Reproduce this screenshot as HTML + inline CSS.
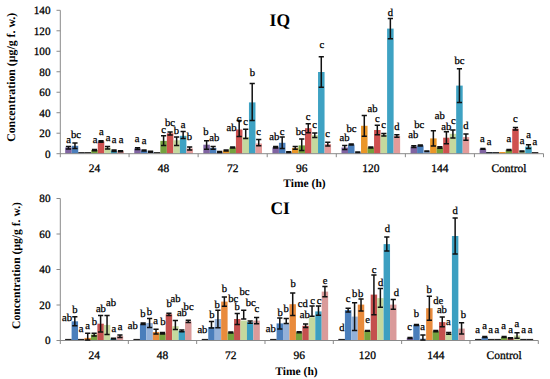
<!DOCTYPE html>
<html><head><meta charset="utf-8"><style>
html,body{margin:0;padding:0;background:#fff;}
body{width:550px;height:379px;overflow:hidden;}
svg{display:block;}
text{font-family:"Liberation Serif", serif;fill:#000;text-rendering:geometricPrecision;stroke:#000;stroke-width:0.28px;}
text[font-weight=bold]{stroke:none;}
</style></head><body>
<svg width="550" height="379" viewBox="0 0 550 379">
<rect width="550" height="379" fill="#fff"/>
<rect x="65.20" y="147.50" width="6.52" height="6.20" fill="#7f63a1"/>
<rect x="71.72" y="145.80" width="6.52" height="7.90" fill="#4a7ebb"/>
<rect x="78.23" y="153.00" width="6.52" height="0.70" fill="#93b1d9"/>
<rect x="78.23" y="152.10" width="6.52" height="1.4" fill="#222"/>
<rect x="84.75" y="153.50" width="6.52" height="0.20" fill="#ea9628"/>
<rect x="84.75" y="152.10" width="6.52" height="1.4" fill="#222"/>
<rect x="91.26" y="150.00" width="6.52" height="3.70" fill="#74a23e"/>
<rect x="97.78" y="141.40" width="6.52" height="12.30" fill="#cf5150"/>
<rect x="104.30" y="147.70" width="6.52" height="6.00" fill="#c5d99e"/>
<rect x="110.81" y="150.60" width="6.52" height="3.10" fill="#3ea2c3"/>
<rect x="117.33" y="151.20" width="6.52" height="2.50" fill="#e49b9a"/>
<rect x="134.27" y="148.50" width="6.52" height="5.20" fill="#7f63a1"/>
<rect x="140.79" y="150.50" width="6.52" height="3.20" fill="#4a7ebb"/>
<rect x="147.30" y="151.70" width="6.52" height="2.00" fill="#93b1d9"/>
<rect x="153.82" y="153.50" width="6.52" height="0.20" fill="#ea9628"/>
<rect x="153.82" y="152.10" width="6.52" height="1.4" fill="#222"/>
<rect x="160.34" y="140.90" width="6.52" height="12.80" fill="#74a23e"/>
<rect x="166.85" y="133.30" width="6.52" height="20.40" fill="#cf5150"/>
<rect x="173.37" y="140.30" width="6.52" height="13.40" fill="#c5d99e"/>
<rect x="179.88" y="135.80" width="6.52" height="17.90" fill="#3ea2c3"/>
<rect x="186.40" y="148.50" width="6.52" height="5.20" fill="#e49b9a"/>
<rect x="203.34" y="144.70" width="6.52" height="9.00" fill="#7f63a1"/>
<rect x="209.86" y="147.90" width="6.52" height="5.80" fill="#4a7ebb"/>
<rect x="216.37" y="152.00" width="6.52" height="1.70" fill="#93b1d9"/>
<rect x="222.89" y="150.50" width="6.52" height="3.20" fill="#ea9628"/>
<rect x="229.41" y="147.50" width="6.52" height="6.20" fill="#74a23e"/>
<rect x="235.92" y="129.50" width="6.52" height="24.20" fill="#cf5150"/>
<rect x="242.44" y="137.10" width="6.52" height="16.60" fill="#c5d99e"/>
<rect x="248.95" y="102.40" width="6.52" height="51.30" fill="#3ea2c3"/>
<rect x="255.47" y="143.50" width="6.52" height="10.20" fill="#e49b9a"/>
<rect x="272.41" y="147.30" width="6.52" height="6.40" fill="#7f63a1"/>
<rect x="278.93" y="142.80" width="6.52" height="10.90" fill="#4a7ebb"/>
<rect x="285.45" y="152.10" width="6.52" height="1.60" fill="#93b1d9"/>
<rect x="291.96" y="147.90" width="6.52" height="5.80" fill="#ea9628"/>
<rect x="298.48" y="145.40" width="6.52" height="8.30" fill="#74a23e"/>
<rect x="304.99" y="128.20" width="6.52" height="25.50" fill="#cf5150"/>
<rect x="311.51" y="135.20" width="6.52" height="18.50" fill="#c5d99e"/>
<rect x="318.03" y="72.00" width="6.52" height="81.70" fill="#3ea2c3"/>
<rect x="324.54" y="144.10" width="6.52" height="9.60" fill="#e49b9a"/>
<rect x="341.49" y="147.50" width="6.52" height="6.20" fill="#7f63a1"/>
<rect x="348.00" y="144.50" width="6.52" height="9.20" fill="#4a7ebb"/>
<rect x="354.52" y="152.30" width="6.52" height="1.40" fill="#93b1d9"/>
<rect x="361.03" y="125.80" width="6.52" height="27.90" fill="#ea9628"/>
<rect x="367.55" y="147.50" width="6.52" height="6.20" fill="#74a23e"/>
<rect x="374.07" y="130.00" width="6.52" height="23.70" fill="#cf5150"/>
<rect x="380.58" y="134.70" width="6.52" height="19.00" fill="#c5d99e"/>
<rect x="387.10" y="28.60" width="6.52" height="125.10" fill="#3ea2c3"/>
<rect x="393.61" y="136.00" width="6.52" height="17.70" fill="#e49b9a"/>
<rect x="410.56" y="146.60" width="6.52" height="7.10" fill="#7f63a1"/>
<rect x="417.07" y="145.40" width="6.52" height="8.30" fill="#4a7ebb"/>
<rect x="423.59" y="151.30" width="6.52" height="2.40" fill="#93b1d9"/>
<rect x="430.11" y="138.40" width="6.52" height="15.30" fill="#ea9628"/>
<rect x="436.62" y="147.50" width="6.52" height="6.20" fill="#74a23e"/>
<rect x="443.14" y="137.70" width="6.52" height="16.00" fill="#cf5150"/>
<rect x="449.65" y="133.80" width="6.52" height="19.90" fill="#c5d99e"/>
<rect x="456.17" y="85.60" width="6.52" height="68.10" fill="#3ea2c3"/>
<rect x="462.69" y="137.10" width="6.52" height="16.60" fill="#e49b9a"/>
<rect x="479.63" y="148.80" width="6.52" height="4.90" fill="#7f63a1"/>
<rect x="486.14" y="152.10" width="6.52" height="1.60" fill="#4a7ebb"/>
<rect x="486.14" y="152.10" width="6.52" height="1.4" fill="#222"/>
<rect x="492.66" y="152.50" width="6.52" height="1.20" fill="#93b1d9"/>
<rect x="492.66" y="152.10" width="6.52" height="1.4" fill="#222"/>
<rect x="499.18" y="152.00" width="6.52" height="1.70" fill="#ea9628"/>
<rect x="505.69" y="149.80" width="6.52" height="3.90" fill="#74a23e"/>
<rect x="512.21" y="128.80" width="6.52" height="24.90" fill="#cf5150"/>
<rect x="518.72" y="151.30" width="6.52" height="2.40" fill="#c5d99e"/>
<rect x="525.24" y="146.60" width="6.52" height="7.10" fill="#3ea2c3"/>
<rect x="531.76" y="152.50" width="6.52" height="1.20" fill="#e49b9a"/>
<rect x="531.76" y="152.10" width="6.52" height="1.4" fill="#222"/>
<line x1="60" y1="153.7" x2="543.5" y2="153.7" stroke="#8a8a8a" stroke-width="1"/>
<line x1="60.3" y1="10.305000000000007" x2="60.3" y2="157.2" stroke="#8a8a8a" stroke-width="1"/>
<line x1="56.5" y1="153.70" x2="60.3" y2="153.70" stroke="#8a8a8a" stroke-width="1"/>
<text x="50.5" y="157.60" text-anchor="end" font-size="11.2">0</text>
<line x1="56.5" y1="133.21" x2="60.3" y2="133.21" stroke="#8a8a8a" stroke-width="1"/>
<text x="50.5" y="137.11" text-anchor="end" font-size="11.2">20</text>
<line x1="56.5" y1="112.73" x2="60.3" y2="112.73" stroke="#8a8a8a" stroke-width="1"/>
<text x="50.5" y="116.63" text-anchor="end" font-size="11.2">40</text>
<line x1="56.5" y1="92.24" x2="60.3" y2="92.24" stroke="#8a8a8a" stroke-width="1"/>
<text x="50.5" y="96.14" text-anchor="end" font-size="11.2">60</text>
<line x1="56.5" y1="71.76" x2="60.3" y2="71.76" stroke="#8a8a8a" stroke-width="1"/>
<text x="50.5" y="75.66" text-anchor="end" font-size="11.2">80</text>
<line x1="56.5" y1="51.27" x2="60.3" y2="51.27" stroke="#8a8a8a" stroke-width="1"/>
<text x="50.5" y="55.17" text-anchor="end" font-size="11.2">100</text>
<line x1="56.5" y1="30.79" x2="60.3" y2="30.79" stroke="#8a8a8a" stroke-width="1"/>
<text x="50.5" y="34.69" text-anchor="end" font-size="11.2">120</text>
<line x1="56.5" y1="10.31" x2="60.3" y2="10.31" stroke="#8a8a8a" stroke-width="1"/>
<text x="50.5" y="14.21" text-anchor="end" font-size="11.2">140</text>
<line x1="129.07" y1="153.7" x2="129.07" y2="157.2" stroke="#8a8a8a" stroke-width="1"/>
<line x1="198.14" y1="153.7" x2="198.14" y2="157.2" stroke="#8a8a8a" stroke-width="1"/>
<line x1="267.21" y1="153.7" x2="267.21" y2="157.2" stroke="#8a8a8a" stroke-width="1"/>
<line x1="336.29" y1="153.7" x2="336.29" y2="157.2" stroke="#8a8a8a" stroke-width="1"/>
<line x1="405.36" y1="153.7" x2="405.36" y2="157.2" stroke="#8a8a8a" stroke-width="1"/>
<line x1="474.43" y1="153.7" x2="474.43" y2="157.2" stroke="#8a8a8a" stroke-width="1"/>
<line x1="543.50" y1="153.7" x2="543.50" y2="157.2" stroke="#8a8a8a" stroke-width="1"/>
<path d="M65.86 146.50H71.06M68.46 146.50V149.00M65.86 149.00H71.06" stroke="#111" stroke-width="1.5" fill="none"/>
<text x="68.50" y="142.60" text-anchor="middle" font-size="10.6">a</text>
<path d="M72.37 143.00H77.57M74.97 143.00V148.50M72.37 148.50H77.57" stroke="#111" stroke-width="1.5" fill="none"/>
<text x="76.00" y="138.20" text-anchor="middle" font-size="10.6">bc</text>
<path d="M91.92 149.50H97.12M94.52 149.50V150.80M91.92 150.80H97.12" stroke="#111" stroke-width="1.5" fill="none"/>
<text x="95.10" y="142.60" text-anchor="middle" font-size="10.6">a</text>
<path d="M98.44 140.80H103.64M101.04 140.80V142.20M98.44 142.20H103.64" stroke="#111" stroke-width="1.5" fill="none"/>
<text x="101.30" y="135.00" text-anchor="middle" font-size="10.6">a</text>
<path d="M104.95 146.50H110.15M107.55 146.50V149.00M104.95 149.00H110.15" stroke="#111" stroke-width="1.5" fill="none"/>
<text x="108.00" y="140.70" text-anchor="middle" font-size="10.6">a</text>
<path d="M111.47 150.00H116.67M114.07 150.00V151.40M111.47 151.40H116.67" stroke="#111" stroke-width="1.5" fill="none"/>
<text x="114.00" y="142.60" text-anchor="middle" font-size="10.6">a</text>
<path d="M117.99 150.80H123.19M120.59 150.80V151.80M117.99 151.80H123.19" stroke="#111" stroke-width="1.5" fill="none"/>
<text x="121.00" y="143.30" text-anchor="middle" font-size="10.6">a</text>
<path d="M134.93 147.80H140.13M137.53 147.80V149.50M134.93 149.50H140.13" stroke="#111" stroke-width="1.5" fill="none"/>
<text x="137.20" y="141.50" text-anchor="middle" font-size="10.6">a</text>
<path d="M141.45 150.00H146.65M144.05 150.00V151.00M141.45 151.00H146.65" stroke="#111" stroke-width="1.5" fill="none"/>
<text x="144.00" y="143.50" text-anchor="middle" font-size="10.6">a</text>
<path d="M147.96 151.30H153.16M150.56 151.30V152.20M147.96 152.20H153.16" stroke="#111" stroke-width="1.5" fill="none"/>
<path d="M160.99 135.80H166.19M163.59 135.80V145.40M160.99 145.40H166.19" stroke="#111" stroke-width="1.5" fill="none"/>
<text x="163.50" y="132.60" text-anchor="middle" font-size="10.6">c</text>
<path d="M167.51 132.00H172.71M170.11 132.00V135.00M167.51 135.00H172.71" stroke="#111" stroke-width="1.5" fill="none"/>
<text x="170.00" y="126.30" text-anchor="middle" font-size="10.6">bc</text>
<path d="M174.03 137.00H179.23M176.63 137.00V145.40M174.03 145.40H179.23" stroke="#111" stroke-width="1.5" fill="none"/>
<text x="176.50" y="134.00" text-anchor="middle" font-size="10.6">b</text>
<path d="M180.54 131.40H185.74M183.14 131.40V138.40M180.54 138.40H185.74" stroke="#111" stroke-width="1.5" fill="none"/>
<text x="183.00" y="127.50" text-anchor="middle" font-size="10.6">a</text>
<path d="M187.06 147.00H192.26M189.66 147.00V150.00M187.06 150.00H192.26" stroke="#111" stroke-width="1.5" fill="none"/>
<text x="189.50" y="140.30" text-anchor="middle" font-size="10.6">b</text>
<path d="M204.00 140.70H209.20M206.60 140.70V149.20M204.00 149.20H209.20" stroke="#111" stroke-width="1.5" fill="none"/>
<text x="206.00" y="135.20" text-anchor="middle" font-size="10.6">b</text>
<path d="M210.52 146.60H215.72M213.12 146.60V149.20M210.52 149.20H215.72" stroke="#111" stroke-width="1.5" fill="none"/>
<text x="214.30" y="140.90" text-anchor="middle" font-size="10.6">ab</text>
<path d="M217.03 151.60H222.23M219.63 151.60V152.40M217.03 152.40H222.23" stroke="#111" stroke-width="1.5" fill="none"/>
<path d="M223.55 150.00H228.75M226.15 150.00V151.00M223.55 151.00H228.75" stroke="#111" stroke-width="1.5" fill="none"/>
<path d="M230.06 147.00H235.26M232.66 147.00V148.00M230.06 148.00H235.26" stroke="#111" stroke-width="1.5" fill="none"/>
<text x="231.50" y="130.70" text-anchor="middle" font-size="10.6">ab</text>
<path d="M236.58 120.50H241.78M239.18 120.50V136.50M236.58 136.50H241.78" stroke="#111" stroke-width="1.5" fill="none"/>
<text x="239.00" y="121.80" text-anchor="middle" font-size="10.6">c</text>
<path d="M243.10 129.20H248.30M245.70 129.20V138.40M243.10 138.40H248.30" stroke="#111" stroke-width="1.5" fill="none"/>
<text x="245.50" y="125.00" text-anchor="middle" font-size="10.6">c</text>
<path d="M249.61 83.60H254.81M252.21 83.60V120.50M249.61 120.50H254.81" stroke="#111" stroke-width="1.5" fill="none"/>
<text x="252.50" y="76.20" text-anchor="middle" font-size="10.6">b</text>
<path d="M256.13 139.60H261.33M258.73 139.60V145.70M256.13 145.70H261.33" stroke="#111" stroke-width="1.5" fill="none"/>
<text x="258.50" y="134.50" text-anchor="middle" font-size="10.6">c</text>
<path d="M273.07 146.50H278.27M275.67 146.50V148.10M273.07 148.10H278.27" stroke="#111" stroke-width="1.5" fill="none"/>
<text x="274.30" y="139.60" text-anchor="middle" font-size="10.6">ab</text>
<path d="M279.59 137.10H284.79M282.19 137.10V148.50M279.59 148.50H284.79" stroke="#111" stroke-width="1.5" fill="none"/>
<text x="282.00" y="134.50" text-anchor="middle" font-size="10.6">c</text>
<path d="M286.10 151.70H291.30M288.70 151.70V152.50M286.10 152.50H291.30" stroke="#111" stroke-width="1.5" fill="none"/>
<path d="M292.62 146.50H297.82M295.22 146.50V149.30M292.62 149.30H297.82" stroke="#111" stroke-width="1.5" fill="none"/>
<path d="M299.14 139.00H304.34M301.74 139.00V150.50M299.14 150.50H304.34" stroke="#111" stroke-width="1.5" fill="none"/>
<text x="300.80" y="135.20" text-anchor="middle" font-size="10.6">bc</text>
<path d="M305.65 123.70H310.85M308.25 123.70V132.70M305.65 132.70H310.85" stroke="#111" stroke-width="1.5" fill="none"/>
<text x="308.00" y="120.00" text-anchor="middle" font-size="10.6">c</text>
<path d="M312.17 133.00H317.37M314.77 133.00V137.40M312.17 137.40H317.37" stroke="#111" stroke-width="1.5" fill="none"/>
<text x="314.60" y="127.50" text-anchor="middle" font-size="10.6">c</text>
<path d="M318.68 56.70H323.88M321.28 56.70V87.30M318.68 87.30H323.88" stroke="#111" stroke-width="1.5" fill="none"/>
<text x="321.80" y="48.40" text-anchor="middle" font-size="10.6">c</text>
<path d="M325.20 142.20H330.40M327.80 142.20V146.00M325.20 146.00H330.40" stroke="#111" stroke-width="1.5" fill="none"/>
<text x="327.60" y="136.50" text-anchor="middle" font-size="10.6">c</text>
<path d="M342.14 145.50H347.34M344.74 145.50V149.50M342.14 149.50H347.34" stroke="#111" stroke-width="1.5" fill="none"/>
<text x="344.50" y="141.00" text-anchor="middle" font-size="10.6">ab</text>
<path d="M348.66 144.00H353.86M351.26 144.00V145.00M348.66 145.00H353.86" stroke="#111" stroke-width="1.5" fill="none"/>
<text x="351.50" y="132.20" text-anchor="middle" font-size="10.6">bc</text>
<path d="M355.18 152.00H360.38M357.78 152.00V152.60M355.18 152.60H360.38" stroke="#111" stroke-width="1.5" fill="none"/>
<path d="M361.69 115.40H366.89M364.29 115.40V136.20M361.69 136.20H366.89" stroke="#111" stroke-width="1.5" fill="none"/>
<text x="372.50" y="111.60" text-anchor="middle" font-size="10.6">ab</text>
<path d="M368.21 147.00H373.41M370.81 147.00V148.00M368.21 148.00H373.41" stroke="#111" stroke-width="1.5" fill="none"/>
<path d="M374.72 125.20H379.92M377.32 125.20V134.80M374.72 134.80H379.92" stroke="#111" stroke-width="1.5" fill="none"/>
<text x="377.30" y="122.00" text-anchor="middle" font-size="10.6">c</text>
<path d="M381.24 133.50H386.44M383.84 133.50V136.00M381.24 136.00H386.44" stroke="#111" stroke-width="1.5" fill="none"/>
<text x="383.70" y="128.40" text-anchor="middle" font-size="10.6">c</text>
<path d="M387.76 18.40H392.96M390.36 18.40V38.80M387.76 38.80H392.96" stroke="#111" stroke-width="1.5" fill="none"/>
<text x="390.30" y="15.70" text-anchor="middle" font-size="10.6">d</text>
<path d="M394.27 134.70H399.47M396.87 134.70V137.30M394.27 137.30H399.47" stroke="#111" stroke-width="1.5" fill="none"/>
<text x="396.80" y="130.30" text-anchor="middle" font-size="10.6">d</text>
<path d="M411.22 145.70H416.42M413.82 145.70V147.50M411.22 147.50H416.42" stroke="#111" stroke-width="1.5" fill="none"/>
<text x="413.20" y="138.40" text-anchor="middle" font-size="10.6">ab</text>
<path d="M417.73 145.00H422.93M420.33 145.00V146.00M417.73 146.00H422.93" stroke="#111" stroke-width="1.5" fill="none"/>
<text x="419.20" y="127.50" text-anchor="middle" font-size="10.6">bc</text>
<path d="M424.25 151.00H429.45M426.85 151.00V151.60M424.25 151.60H429.45" stroke="#111" stroke-width="1.5" fill="none"/>
<path d="M430.76 130.70H435.96M433.36 130.70V146.10M430.76 146.10H435.96" stroke="#111" stroke-width="1.5" fill="none"/>
<text x="439.70" y="119.40" text-anchor="middle" font-size="10.6">ab</text>
<path d="M437.28 146.80H442.48M439.88 146.80V148.20M437.28 148.20H442.48" stroke="#111" stroke-width="1.5" fill="none"/>
<path d="M443.80 131.70H449.00M446.40 131.70V143.70M443.80 143.70H449.00" stroke="#111" stroke-width="1.5" fill="none"/>
<text x="446.30" y="129.50" text-anchor="middle" font-size="10.6">ab</text>
<path d="M450.31 130.00H455.51M452.91 130.00V138.00M450.31 138.00H455.51" stroke="#111" stroke-width="1.5" fill="none"/>
<text x="453.40" y="124.40" text-anchor="middle" font-size="10.6">c</text>
<path d="M456.83 68.80H462.03M459.43 68.80V102.40M456.83 102.40H462.03" stroke="#111" stroke-width="1.5" fill="none"/>
<text x="459.40" y="63.50" text-anchor="middle" font-size="10.6">bc</text>
<path d="M463.34 133.90H468.54M465.94 133.90V140.30M463.34 140.30H468.54" stroke="#111" stroke-width="1.5" fill="none"/>
<text x="466.00" y="128.80" text-anchor="middle" font-size="10.6">d</text>
<path d="M480.29 148.40H485.49M482.89 148.40V149.20M480.29 149.20H485.49" stroke="#111" stroke-width="1.5" fill="none"/>
<text x="482.40" y="141.50" text-anchor="middle" font-size="10.6">a</text>
<text x="489.00" y="144.70" text-anchor="middle" font-size="10.6">a</text>
<path d="M506.35 149.40H511.55M508.95 149.40V150.40M506.35 150.40H511.55" stroke="#111" stroke-width="1.5" fill="none"/>
<text x="508.90" y="142.20" text-anchor="middle" font-size="10.6">a</text>
<path d="M512.87 127.50H518.07M515.47 127.50V130.00M512.87 130.00H518.07" stroke="#111" stroke-width="1.5" fill="none"/>
<text x="515.30" y="122.00" text-anchor="middle" font-size="10.6">c</text>
<path d="M519.38 151.00H524.58M521.98 151.00V151.80M519.38 151.80H524.58" stroke="#111" stroke-width="1.5" fill="none"/>
<text x="522.00" y="143.50" text-anchor="middle" font-size="10.6">a</text>
<path d="M525.90 144.70H531.10M528.50 144.70V148.50M525.90 148.50H531.10" stroke="#111" stroke-width="1.5" fill="none"/>
<text x="528.50" y="138.40" text-anchor="middle" font-size="10.6">a</text>
<text x="534.80" y="145.40" text-anchor="middle" font-size="10.6">a</text>
<text x="94.54" y="172.2" text-anchor="middle" font-size="11.5">24</text>
<text x="163.61" y="172.2" text-anchor="middle" font-size="11.5">48</text>
<text x="232.68" y="172.2" text-anchor="middle" font-size="11.5">72</text>
<text x="301.75" y="172.2" text-anchor="middle" font-size="11.5">96</text>
<text x="370.82" y="172.2" text-anchor="middle" font-size="11.5">120</text>
<text x="439.89" y="172.2" text-anchor="middle" font-size="11.5">144</text>
<text x="508.96" y="172.2" text-anchor="middle" font-size="11.5">Control</text>
<text x="304.5" y="187" text-anchor="middle" font-size="11.5" font-weight="bold">Time (h)</text>
<text transform="translate(11.1 77.35) rotate(-90)" x="0" y="4" text-anchor="middle" font-size="11.8" font-weight="bold">Concentration (µg/g f. w.)</text>
<text transform="translate(279.8 25.7) scale(1 1.01)" text-anchor="middle" font-size="17.5" font-weight="bold">IQ</text>
<rect x="65.15" y="339.50" width="6.45" height="1.00" fill="#7f63a1"/>
<rect x="65.15" y="338.90" width="6.45" height="1.4" fill="#222"/>
<rect x="71.60" y="321.30" width="6.45" height="19.20" fill="#4a7ebb"/>
<rect x="78.04" y="339.50" width="6.45" height="1.00" fill="#93b1d9"/>
<rect x="78.04" y="338.90" width="6.45" height="1.4" fill="#222"/>
<rect x="84.49" y="337.90" width="6.45" height="2.60" fill="#e98b3c"/>
<rect x="90.93" y="334.60" width="6.45" height="5.90" fill="#74a23e"/>
<rect x="97.38" y="323.70" width="6.45" height="16.80" fill="#c4504e"/>
<rect x="103.83" y="324.90" width="6.45" height="15.60" fill="#c5d99e"/>
<rect x="110.27" y="338.60" width="6.45" height="1.90" fill="#3c9fc1"/>
<rect x="116.72" y="336.20" width="6.45" height="4.30" fill="#da9a9a"/>
<rect x="133.48" y="339.50" width="6.45" height="1.00" fill="#7f63a1"/>
<rect x="133.48" y="338.90" width="6.45" height="1.4" fill="#222"/>
<rect x="139.92" y="323.80" width="6.45" height="16.70" fill="#4a7ebb"/>
<rect x="146.37" y="323.00" width="6.45" height="17.50" fill="#93b1d9"/>
<rect x="152.82" y="332.00" width="6.45" height="8.50" fill="#e98b3c"/>
<rect x="159.26" y="333.30" width="6.45" height="7.20" fill="#74a23e"/>
<rect x="165.71" y="314.30" width="6.45" height="26.20" fill="#c4504e"/>
<rect x="172.15" y="326.20" width="6.45" height="14.30" fill="#c5d99e"/>
<rect x="178.60" y="330.90" width="6.45" height="9.60" fill="#3c9fc1"/>
<rect x="185.05" y="321.40" width="6.45" height="19.10" fill="#da9a9a"/>
<rect x="201.81" y="339.50" width="6.45" height="1.00" fill="#7f63a1"/>
<rect x="201.81" y="338.90" width="6.45" height="1.4" fill="#222"/>
<rect x="208.25" y="327.00" width="6.45" height="13.50" fill="#4a7ebb"/>
<rect x="214.70" y="319.00" width="6.45" height="21.50" fill="#93b1d9"/>
<rect x="221.15" y="301.60" width="6.45" height="38.90" fill="#e98b3c"/>
<rect x="227.59" y="332.50" width="6.45" height="8.00" fill="#74a23e"/>
<rect x="234.04" y="319.00" width="6.45" height="21.50" fill="#c4504e"/>
<rect x="240.48" y="320.60" width="6.45" height="19.90" fill="#c5d99e"/>
<rect x="246.93" y="322.20" width="6.45" height="18.30" fill="#3c9fc1"/>
<rect x="253.38" y="320.60" width="6.45" height="19.90" fill="#da9a9a"/>
<rect x="270.14" y="339.50" width="6.45" height="1.00" fill="#7f63a1"/>
<rect x="270.14" y="338.90" width="6.45" height="1.4" fill="#222"/>
<rect x="276.58" y="323.40" width="6.45" height="17.10" fill="#4a7ebb"/>
<rect x="283.03" y="323.40" width="6.45" height="17.10" fill="#93b1d9"/>
<rect x="289.47" y="304.20" width="6.45" height="36.30" fill="#e98b3c"/>
<rect x="295.92" y="332.30" width="6.45" height="8.20" fill="#74a23e"/>
<rect x="302.37" y="325.80" width="6.45" height="14.70" fill="#c4504e"/>
<rect x="308.81" y="317.20" width="6.45" height="23.30" fill="#c5d99e"/>
<rect x="315.26" y="311.40" width="6.45" height="29.10" fill="#3c9fc1"/>
<rect x="321.70" y="291.60" width="6.45" height="48.90" fill="#da9a9a"/>
<rect x="338.46" y="339.00" width="6.45" height="1.50" fill="#7f63a1"/>
<rect x="338.46" y="338.90" width="6.45" height="1.4" fill="#222"/>
<rect x="344.91" y="310.10" width="6.45" height="30.40" fill="#4a7ebb"/>
<rect x="351.36" y="316.60" width="6.45" height="23.90" fill="#93b1d9"/>
<rect x="357.80" y="304.60" width="6.45" height="35.90" fill="#e98b3c"/>
<rect x="364.25" y="330.80" width="6.45" height="9.70" fill="#74a23e"/>
<rect x="370.69" y="294.60" width="6.45" height="45.90" fill="#c4504e"/>
<rect x="377.14" y="298.10" width="6.45" height="42.40" fill="#c5d99e"/>
<rect x="383.59" y="244.10" width="6.45" height="96.40" fill="#3c9fc1"/>
<rect x="390.03" y="304.60" width="6.45" height="35.90" fill="#da9a9a"/>
<rect x="406.79" y="337.80" width="6.45" height="2.70" fill="#7f63a1"/>
<rect x="413.24" y="324.90" width="6.45" height="15.60" fill="#4a7ebb"/>
<rect x="419.68" y="338.50" width="6.45" height="2.00" fill="#93b1d9"/>
<rect x="426.13" y="308.20" width="6.45" height="32.30" fill="#e98b3c"/>
<rect x="432.58" y="331.30" width="6.45" height="9.20" fill="#74a23e"/>
<rect x="439.02" y="322.10" width="6.45" height="18.40" fill="#c4504e"/>
<rect x="445.47" y="333.70" width="6.45" height="6.80" fill="#c5d99e"/>
<rect x="451.91" y="236.00" width="6.45" height="104.50" fill="#3c9fc1"/>
<rect x="458.36" y="328.60" width="6.45" height="11.90" fill="#da9a9a"/>
<rect x="475.12" y="339.00" width="6.45" height="1.50" fill="#7f63a1"/>
<rect x="475.12" y="338.90" width="6.45" height="1.4" fill="#222"/>
<rect x="481.57" y="337.00" width="6.45" height="3.50" fill="#4a7ebb"/>
<rect x="488.01" y="339.50" width="6.45" height="1.00" fill="#93b1d9"/>
<rect x="488.01" y="338.90" width="6.45" height="1.4" fill="#222"/>
<rect x="494.46" y="339.50" width="6.45" height="1.00" fill="#e98b3c"/>
<rect x="494.46" y="338.90" width="6.45" height="1.4" fill="#222"/>
<rect x="500.91" y="337.00" width="6.45" height="3.50" fill="#74a23e"/>
<rect x="507.35" y="338.20" width="6.45" height="2.30" fill="#c4504e"/>
<rect x="513.80" y="335.50" width="6.45" height="5.00" fill="#c5d99e"/>
<rect x="520.24" y="339.50" width="6.45" height="1.00" fill="#3c9fc1"/>
<rect x="520.24" y="338.90" width="6.45" height="1.4" fill="#222"/>
<rect x="526.69" y="339.50" width="6.45" height="1.00" fill="#da9a9a"/>
<rect x="526.69" y="338.90" width="6.45" height="1.4" fill="#222"/>
<line x1="60" y1="340.5" x2="538.3" y2="340.5" stroke="#8a8a8a" stroke-width="1"/>
<line x1="60.3" y1="198.5" x2="60.3" y2="344.0" stroke="#8a8a8a" stroke-width="1"/>
<line x1="56.5" y1="340.50" x2="60.3" y2="340.50" stroke="#8a8a8a" stroke-width="1"/>
<text x="50.5" y="344.40" text-anchor="end" font-size="11.2">0</text>
<line x1="56.5" y1="305.00" x2="60.3" y2="305.00" stroke="#8a8a8a" stroke-width="1"/>
<text x="50.5" y="308.90" text-anchor="end" font-size="11.2">20</text>
<line x1="56.5" y1="269.50" x2="60.3" y2="269.50" stroke="#8a8a8a" stroke-width="1"/>
<text x="50.5" y="273.40" text-anchor="end" font-size="11.2">40</text>
<line x1="56.5" y1="234.00" x2="60.3" y2="234.00" stroke="#8a8a8a" stroke-width="1"/>
<text x="50.5" y="237.90" text-anchor="end" font-size="11.2">60</text>
<line x1="56.5" y1="198.50" x2="60.3" y2="198.50" stroke="#8a8a8a" stroke-width="1"/>
<text x="50.5" y="202.40" text-anchor="end" font-size="11.2">80</text>
<line x1="128.33" y1="340.5" x2="128.33" y2="344.0" stroke="#8a8a8a" stroke-width="1"/>
<line x1="196.66" y1="340.5" x2="196.66" y2="344.0" stroke="#8a8a8a" stroke-width="1"/>
<line x1="264.99" y1="340.5" x2="264.99" y2="344.0" stroke="#8a8a8a" stroke-width="1"/>
<line x1="333.31" y1="340.5" x2="333.31" y2="344.0" stroke="#8a8a8a" stroke-width="1"/>
<line x1="401.64" y1="340.5" x2="401.64" y2="344.0" stroke="#8a8a8a" stroke-width="1"/>
<line x1="469.97" y1="340.5" x2="469.97" y2="344.0" stroke="#8a8a8a" stroke-width="1"/>
<line x1="538.30" y1="340.5" x2="538.30" y2="344.0" stroke="#8a8a8a" stroke-width="1"/>
<text x="67.00" y="321.30" text-anchor="middle" font-size="10.6">ab</text>
<path d="M72.22 316.80H77.42M74.82 316.80V325.80M72.22 325.80H77.42" stroke="#111" stroke-width="1.5" fill="none"/>
<text x="74.80" y="312.80" text-anchor="middle" font-size="10.6">b</text>
<text x="81.10" y="332.00" text-anchor="middle" font-size="10.6">a</text>
<path d="M85.11 333.30H90.31M87.71 333.30V340.00M85.11 340.00H90.31" stroke="#111" stroke-width="1.5" fill="none"/>
<text x="87.70" y="329.30" text-anchor="middle" font-size="10.6">a</text>
<path d="M91.56 333.30H96.76M94.16 333.30V336.00M91.56 336.00H96.76" stroke="#111" stroke-width="1.5" fill="none"/>
<text x="94.30" y="325.40" text-anchor="middle" font-size="10.6">b</text>
<path d="M98.00 315.40H103.20M100.60 315.40V332.00M98.00 332.00H103.20" stroke="#111" stroke-width="1.5" fill="none"/>
<text x="100.90" y="311.80" text-anchor="middle" font-size="10.6">ab</text>
<path d="M104.45 315.40H109.65M107.05 315.40V334.40M104.45 334.40H109.65" stroke="#111" stroke-width="1.5" fill="none"/>
<text x="111.00" y="306.00" text-anchor="middle" font-size="10.6">ab</text>
<path d="M110.90 338.20H116.09M113.50 338.20V339.00M110.90 339.00H116.09" stroke="#111" stroke-width="1.5" fill="none"/>
<text x="113.80" y="332.10" text-anchor="middle" font-size="10.6">a</text>
<path d="M117.34 335.00H122.54M119.94 335.00V337.40M117.34 337.40H122.54" stroke="#111" stroke-width="1.5" fill="none"/>
<text x="120.20" y="330.00" text-anchor="middle" font-size="10.6">a</text>
<text x="132.70" y="329.30" text-anchor="middle" font-size="10.6">ab</text>
<path d="M140.55 323.00H145.75M143.15 323.00V324.60M140.55 324.60H145.75" stroke="#111" stroke-width="1.5" fill="none"/>
<text x="142.90" y="316.70" text-anchor="middle" font-size="10.6">b</text>
<path d="M146.99 318.60H152.19M149.59 318.60V327.40M146.99 327.40H152.19" stroke="#111" stroke-width="1.5" fill="none"/>
<text x="149.30" y="315.10" text-anchor="middle" font-size="10.6">b</text>
<path d="M153.44 329.30H158.64M156.04 329.30V334.00M153.44 334.00H158.64" stroke="#111" stroke-width="1.5" fill="none"/>
<text x="155.70" y="323.80" text-anchor="middle" font-size="10.6">a</text>
<path d="M159.89 332.50H165.09M162.49 332.50V334.00M159.89 334.00H165.09" stroke="#111" stroke-width="1.5" fill="none"/>
<text x="162.90" y="325.40" text-anchor="middle" font-size="10.6">b</text>
<path d="M166.33 313.20H171.53M168.93 313.20V315.40M166.33 315.40H171.53" stroke="#111" stroke-width="1.5" fill="none"/>
<text x="169.20" y="307.20" text-anchor="middle" font-size="10.6">b</text>
<path d="M172.78 320.60H177.98M175.38 320.60V329.50M172.78 329.50H177.98" stroke="#111" stroke-width="1.5" fill="none"/>
<text x="175.50" y="301.60" text-anchor="middle" font-size="10.6">ab</text>
<path d="M179.22 330.10H184.42M181.82 330.10V331.70M179.22 331.70H184.42" stroke="#111" stroke-width="1.5" fill="none"/>
<text x="181.90" y="315.90" text-anchor="middle" font-size="10.6">ab</text>
<path d="M185.67 320.20H190.87M188.27 320.20V322.60M185.67 322.60H190.87" stroke="#111" stroke-width="1.5" fill="none"/>
<text x="188.60" y="309.50" text-anchor="middle" font-size="10.6">bc</text>
<text x="202.40" y="332.50" text-anchor="middle" font-size="10.6">ab</text>
<path d="M208.88 321.40H214.08M211.48 321.40V328.00M208.88 328.00H214.08" stroke="#111" stroke-width="1.5" fill="none"/>
<text x="211.90" y="317.50" text-anchor="middle" font-size="10.6">b</text>
<path d="M215.32 310.30H220.52M217.92 310.30V327.70M215.32 327.70H220.52" stroke="#111" stroke-width="1.5" fill="none"/>
<text x="217.20" y="308.00" text-anchor="middle" font-size="10.6">b</text>
<path d="M221.77 296.90H226.97M224.37 296.90V306.30M221.77 306.30H226.97" stroke="#111" stroke-width="1.5" fill="none"/>
<text x="224.50" y="292.10" text-anchor="middle" font-size="10.6">b</text>
<path d="M228.21 332.00H233.41M230.81 332.00V333.00M228.21 333.00H233.41" stroke="#111" stroke-width="1.5" fill="none"/>
<text x="233.30" y="302.40" text-anchor="middle" font-size="10.6">bc</text>
<path d="M234.66 313.50H239.86M237.26 313.50V324.50M234.66 324.50H239.86" stroke="#111" stroke-width="1.5" fill="none"/>
<text x="237.20" y="310.30" text-anchor="middle" font-size="10.6">b</text>
<path d="M241.11 310.30H246.31M243.71 310.30V319.00M241.11 319.00H246.31" stroke="#111" stroke-width="1.5" fill="none"/>
<text x="244.40" y="294.50" text-anchor="middle" font-size="10.6">bc</text>
<path d="M247.55 321.10H252.75M250.15 321.10V323.30M247.55 323.30H252.75" stroke="#111" stroke-width="1.5" fill="none"/>
<text x="250.70" y="305.60" text-anchor="middle" font-size="10.6">bc</text>
<path d="M254.00 317.50H259.20M256.60 317.50V323.70M254.00 323.70H259.20" stroke="#111" stroke-width="1.5" fill="none"/>
<text x="256.80" y="312.00" text-anchor="middle" font-size="10.6">c</text>
<text x="270.70" y="332.30" text-anchor="middle" font-size="10.6">ab</text>
<path d="M277.20 317.90H282.40M279.80 317.90V328.90M277.20 328.90H282.40" stroke="#111" stroke-width="1.5" fill="none"/>
<text x="280.20" y="315.60" text-anchor="middle" font-size="10.6">b</text>
<path d="M283.65 318.40H288.85M286.25 318.40V323.40M283.65 323.40H288.85" stroke="#111" stroke-width="1.5" fill="none"/>
<text x="286.20" y="312.00" text-anchor="middle" font-size="10.6">b</text>
<path d="M290.10 292.90H295.30M292.70 292.90V315.50M290.10 315.50H295.30" stroke="#111" stroke-width="1.5" fill="none"/>
<text x="293.10" y="287.00" text-anchor="middle" font-size="10.6">b</text>
<path d="M296.54 331.80H301.74M299.14 331.80V332.80M296.54 332.80H301.74" stroke="#111" stroke-width="1.5" fill="none"/>
<text x="302.80" y="307.30" text-anchor="middle" font-size="10.6">cd</text>
<path d="M302.99 324.00H308.19M305.59 324.00V327.60M302.99 327.60H308.19" stroke="#111" stroke-width="1.5" fill="none"/>
<text x="304.70" y="317.50" text-anchor="middle" font-size="10.6">ab</text>
<path d="M309.43 306.10H314.63M312.03 306.10V316.20M309.43 316.20H314.63" stroke="#111" stroke-width="1.5" fill="none"/>
<text x="312.50" y="303.60" text-anchor="middle" font-size="10.6">c</text>
<path d="M315.88 305.90H321.08M318.48 305.90V315.30M315.88 315.30H321.08" stroke="#111" stroke-width="1.5" fill="none"/>
<text x="319.00" y="303.60" text-anchor="middle" font-size="10.6">c</text>
<path d="M322.33 286.50H327.53M324.93 286.50V296.70M322.33 296.70H327.53" stroke="#111" stroke-width="1.5" fill="none"/>
<text x="325.20" y="284.20" text-anchor="middle" font-size="10.6">e</text>
<text x="341.80" y="331.30" text-anchor="middle" font-size="10.6">d</text>
<path d="M345.53 308.20H350.73M348.13 308.20V312.00M345.53 312.00H350.73" stroke="#111" stroke-width="1.5" fill="none"/>
<text x="348.20" y="302.30" text-anchor="middle" font-size="10.6">c</text>
<path d="M351.98 302.70H357.18M354.58 302.70V330.40M351.98 330.40H357.18" stroke="#111" stroke-width="1.5" fill="none"/>
<text x="354.70" y="296.80" text-anchor="middle" font-size="10.6">b</text>
<path d="M358.43 299.00H363.63M361.03 299.00V311.00M358.43 311.00H363.63" stroke="#111" stroke-width="1.5" fill="none"/>
<text x="360.70" y="296.80" text-anchor="middle" font-size="10.6">b</text>
<path d="M364.87 330.40H370.07M367.47 330.40V331.20M364.87 331.20H370.07" stroke="#111" stroke-width="1.5" fill="none"/>
<text x="367.50" y="323.40" text-anchor="middle" font-size="10.6">e</text>
<path d="M371.32 275.10H376.52M373.92 275.10V314.70M371.32 314.70H376.52" stroke="#111" stroke-width="1.5" fill="none"/>
<text x="374.00" y="272.80" text-anchor="middle" font-size="10.6">c</text>
<path d="M377.76 288.50H382.96M380.36 288.50V307.30M377.76 307.30H382.96" stroke="#111" stroke-width="1.5" fill="none"/>
<text x="380.60" y="286.30" text-anchor="middle" font-size="10.6">d</text>
<path d="M384.21 237.00H389.41M386.81 237.00V250.90M384.21 250.90H389.41" stroke="#111" stroke-width="1.5" fill="none"/>
<text x="387.50" y="231.80" text-anchor="middle" font-size="10.6">d</text>
<path d="M390.66 299.40H395.86M393.26 299.40V309.20M390.66 309.20H395.86" stroke="#111" stroke-width="1.5" fill="none"/>
<text x="396.30" y="296.20" text-anchor="middle" font-size="10.6">d</text>
<path d="M407.42 337.40H412.62M410.02 337.40V338.60M407.42 338.60H412.62" stroke="#111" stroke-width="1.5" fill="none"/>
<text x="409.60" y="330.40" text-anchor="middle" font-size="10.6">c</text>
<path d="M413.86 324.50H419.06M416.46 324.50V325.50M413.86 325.50H419.06" stroke="#111" stroke-width="1.5" fill="none"/>
<text x="416.50" y="317.10" text-anchor="middle" font-size="10.6">b</text>
<path d="M420.31 335.00H425.51M422.91 335.00V340.00M420.31 340.00H425.51" stroke="#111" stroke-width="1.5" fill="none"/>
<text x="422.50" y="330.40" text-anchor="middle" font-size="10.6">a</text>
<path d="M426.75 296.20H431.95M429.35 296.20V320.30M426.75 320.30H431.95" stroke="#111" stroke-width="1.5" fill="none"/>
<text x="429.20" y="292.50" text-anchor="middle" font-size="10.6">b</text>
<path d="M433.20 330.40H438.40M435.80 330.40V331.80M433.20 331.80H438.40" stroke="#111" stroke-width="1.5" fill="none"/>
<text x="438.20" y="303.60" text-anchor="middle" font-size="10.6">de</text>
<path d="M439.65 317.10H444.85M442.25 317.10V326.70M439.65 326.70H444.85" stroke="#111" stroke-width="1.5" fill="none"/>
<text x="441.90" y="313.40" text-anchor="middle" font-size="10.6">ab</text>
<path d="M446.09 332.60H451.29M448.69 332.60V334.20M446.09 334.20H451.29" stroke="#111" stroke-width="1.5" fill="none"/>
<text x="448.40" y="325.20" text-anchor="middle" font-size="10.6">a</text>
<path d="M452.54 218.00H457.74M455.14 218.00V254.00M452.54 254.00H457.74" stroke="#111" stroke-width="1.5" fill="none"/>
<text x="455.20" y="213.70" text-anchor="middle" font-size="10.6">d</text>
<path d="M458.98 322.70H464.18M461.58 322.70V334.10M458.98 334.10H464.18" stroke="#111" stroke-width="1.5" fill="none"/>
<text x="463.30" y="317.50" text-anchor="middle" font-size="10.6">b</text>
<text x="477.70" y="332.80" text-anchor="middle" font-size="10.6">a</text>
<path d="M482.19 336.50H487.39M484.79 336.50V337.50M482.19 337.50H487.39" stroke="#111" stroke-width="1.5" fill="none"/>
<text x="484.60" y="329.10" text-anchor="middle" font-size="10.6">a</text>
<text x="490.70" y="333.30" text-anchor="middle" font-size="10.6">a</text>
<text x="496.90" y="333.30" text-anchor="middle" font-size="10.6">a</text>
<path d="M501.53 336.50H506.73M504.13 336.50V337.50M501.53 337.50H506.73" stroke="#111" stroke-width="1.5" fill="none"/>
<text x="503.70" y="329.10" text-anchor="middle" font-size="10.6">a</text>
<path d="M507.97 337.80H513.17M510.57 337.80V338.80M507.97 338.80H513.17" stroke="#111" stroke-width="1.5" fill="none"/>
<text x="510.50" y="332.80" text-anchor="middle" font-size="10.6">a</text>
<path d="M514.42 332.80H519.62M517.02 332.80V338.20M514.42 338.20H519.62" stroke="#111" stroke-width="1.5" fill="none"/>
<text x="516.90" y="326.80" text-anchor="middle" font-size="10.6">a</text>
<text x="523.70" y="333.30" text-anchor="middle" font-size="10.6">a</text>
<text x="530.10" y="333.30" text-anchor="middle" font-size="10.6">a</text>
<text x="94.16" y="359.0" text-anchor="middle" font-size="11.5">24</text>
<text x="162.49" y="359.0" text-anchor="middle" font-size="11.5">48</text>
<text x="230.82" y="359.0" text-anchor="middle" font-size="11.5">72</text>
<text x="299.15" y="359.0" text-anchor="middle" font-size="11.5">96</text>
<text x="367.48" y="359.0" text-anchor="middle" font-size="11.5">120</text>
<text x="435.81" y="359.0" text-anchor="middle" font-size="11.5">144</text>
<text x="504.14" y="359.0" text-anchor="middle" font-size="11.5">Control</text>
<text x="296.5" y="374.9" text-anchor="middle" font-size="11.5" font-weight="bold">Time (h)</text>
<text transform="translate(16 265.5) rotate(-90)" x="0" y="4" text-anchor="middle" font-size="11.6" font-weight="bold">Concentration (µg/g f. w.)</text>
<text transform="translate(280.2 213.8) scale(1 1.01)" text-anchor="middle" font-size="17.5" font-weight="bold">CI</text>
</svg>
</body></html>
